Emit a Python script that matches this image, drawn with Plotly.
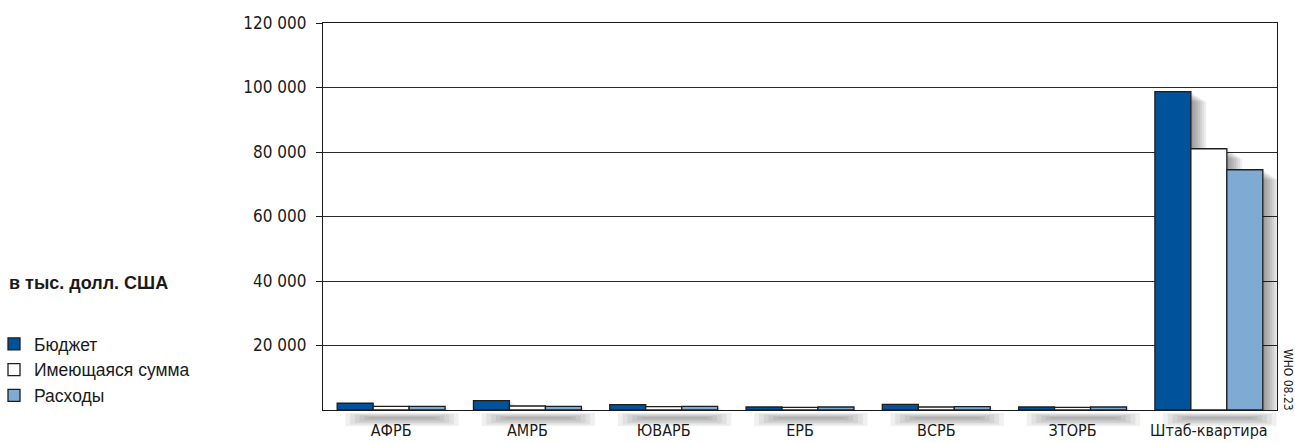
import plotly.graph_objects as go

# Regional offices and headquarters (thousand US$)
categories = ["АФРБ", "АМРБ", "ЮВАРБ", "ЕРБ", "ВСРБ", "ЗТОРБ", "Штаб-квартира"]
budget = [2100, 2900, 1650, 930, 1750, 930, 98700]
available = [1150, 1240, 1030, 800, 930, 800, 81000]
expenditure = [1150, 1100, 1150, 930, 1030, 930, 74500]

series_names = ["Бюджет", "Имеющаяся сумма", "Расходы"]
series_colors = ["#00529b", "#ffffff", "#7faad3"]

y_tick_values = [20000, 40000, 60000, 80000, 100000, 120000]
y_tick_labels = ["20 000", "40 000", "60 000", "80 000", "100 000", "120 000"]

W, H = 1295, 443
M_L, M_R, M_T, M_B = 323, 18, 23, 33
plot_w = W - M_L - M_R
plot_h = H - M_T - M_B
cat_px = plot_w / len(categories)
units_per_px = 120000 / plot_h
x_range = [-0.5, len(categories) - 0.5]


def px_x(px):
    return (px - M_L) / plot_w


def px_y(py):
    return (H - M_B - py) / plot_h


def cat_to_paper(v):
    return (v - x_range[0]) / (x_range[1] - x_range[0])


bar_w = 0.264
offsets = [-1.5 * bar_w, -0.5 * bar_w, 0.5 * bar_w]
x_pos = list(range(len(categories)))

fig = go.Figure()

all_series = [budget, available, expenditure]

# soft drop shadows to the right of and slightly below each bar top
for vals, off in zip(all_series, offsets):
    for i in range(1, 8):
        shift = i * 2.2 / cat_px
        drop = i * 1.4 * units_per_px
        fig.add_trace(go.Bar(
            x=x_pos, y=[max(v - drop, 0) for v in vals], width=bar_w, offset=off + shift,
            marker=dict(color="rgba(0,0,0,0.065)", line=dict(width=0)),
            showlegend=False, hoverinfo="skip",
        ))

for name, vals, col, off in zip(series_names, all_series, series_colors, offsets):
    fig.add_trace(go.Bar(
        name=name, x=x_pos, y=vals, width=bar_w, offset=off,
        marker=dict(color=col, line=dict(color="#1e1e1e", width=1.3)),
    ))

# blurred ground shadow beneath each group of bars, below the axis line
shapes = []
for c in x_pos:
    for k in range(6):
        inset = k * 0.035
        shapes.append(dict(
            type="rect", xref="paper", yref="paper", layer="above",
            x0=cat_to_paper(c - 1.5 * bar_w + 0.06 + inset),
            x1=cat_to_paper(c + 1.5 * bar_w + 0.1 - inset),
            y0=px_y(426 - k * 1.5), y1=px_y(413 + k * 0.8),
            fillcolor="rgba(0,0,0,0.06)", line=dict(width=0),
        ))

axis_font = dict(family="DejaVu Sans Condensed, Liberation Sans, sans-serif", size=17, color="#1a1a1a")
cat_font = dict(family="DejaVu Sans Condensed, Liberation Sans, sans-serif", size=16, color="#1a1a1a")

fig.update_layout(
    width=W, height=H,
    margin=dict(l=M_L, r=M_R, t=M_T, b=M_B, pad=0, autoexpand=False),
    paper_bgcolor="white", plot_bgcolor="white",
    barmode="overlay",
    showlegend=True,
    legend=dict(
        x=px_x(-6), xanchor="left",
        y=px_y(326), yanchor="top",
        font=dict(family="Liberation Sans, Arial, sans-serif", size=17.5, color="#1a1a1a"),
        bgcolor="rgba(0,0,0,0)", tracegroupgap=0, itemclick=False,
    ),
    xaxis=dict(
        range=x_range,
        tickmode="array", tickvals=x_pos, ticktext=categories,
        showgrid=False, zeroline=False, automargin=False,
        showline=True, linecolor="#1a1a1a", linewidth=1.2, mirror=True,
        ticks="", tickfont=cat_font, ticklabelstandoff=6,
    ),
    yaxis=dict(
        range=[0, 120000],
        tickmode="array", tickvals=y_tick_values, ticktext=y_tick_labels,
        showgrid=True, gridcolor="#2a2a2a", gridwidth=1,
        zeroline=False, automargin=False,
        showline=True, linecolor="#1a1a1a", linewidth=1.2, mirror=True,
        ticks="outside", ticklen=6, tickcolor="#1a1a1a", tickwidth=1,
        ticklabelstandoff=6,
        tickfont=axis_font,
    ),
    shapes=shapes,
    annotations=[
        dict(text="<b>в тыс. долл. США</b>", xref="paper", yref="paper",
             x=px_x(7), xanchor="left",
             y=px_y(283), yanchor="middle",
             showarrow=False,
             font=dict(family="Liberation Sans, Arial, sans-serif", size=18, color="#1a1a1a")),
        dict(text="WHO 08.23", xref="paper", yref="paper",
             x=px_x(1288), xanchor="center",
             y=px_y(380), yanchor="middle",
             textangle=90, showarrow=False,
             font=dict(family="DejaVu Sans Condensed, Liberation Sans, sans-serif", size=12, color="#1a1a1a")),
    ],
)

fig.write_html("out.html")
